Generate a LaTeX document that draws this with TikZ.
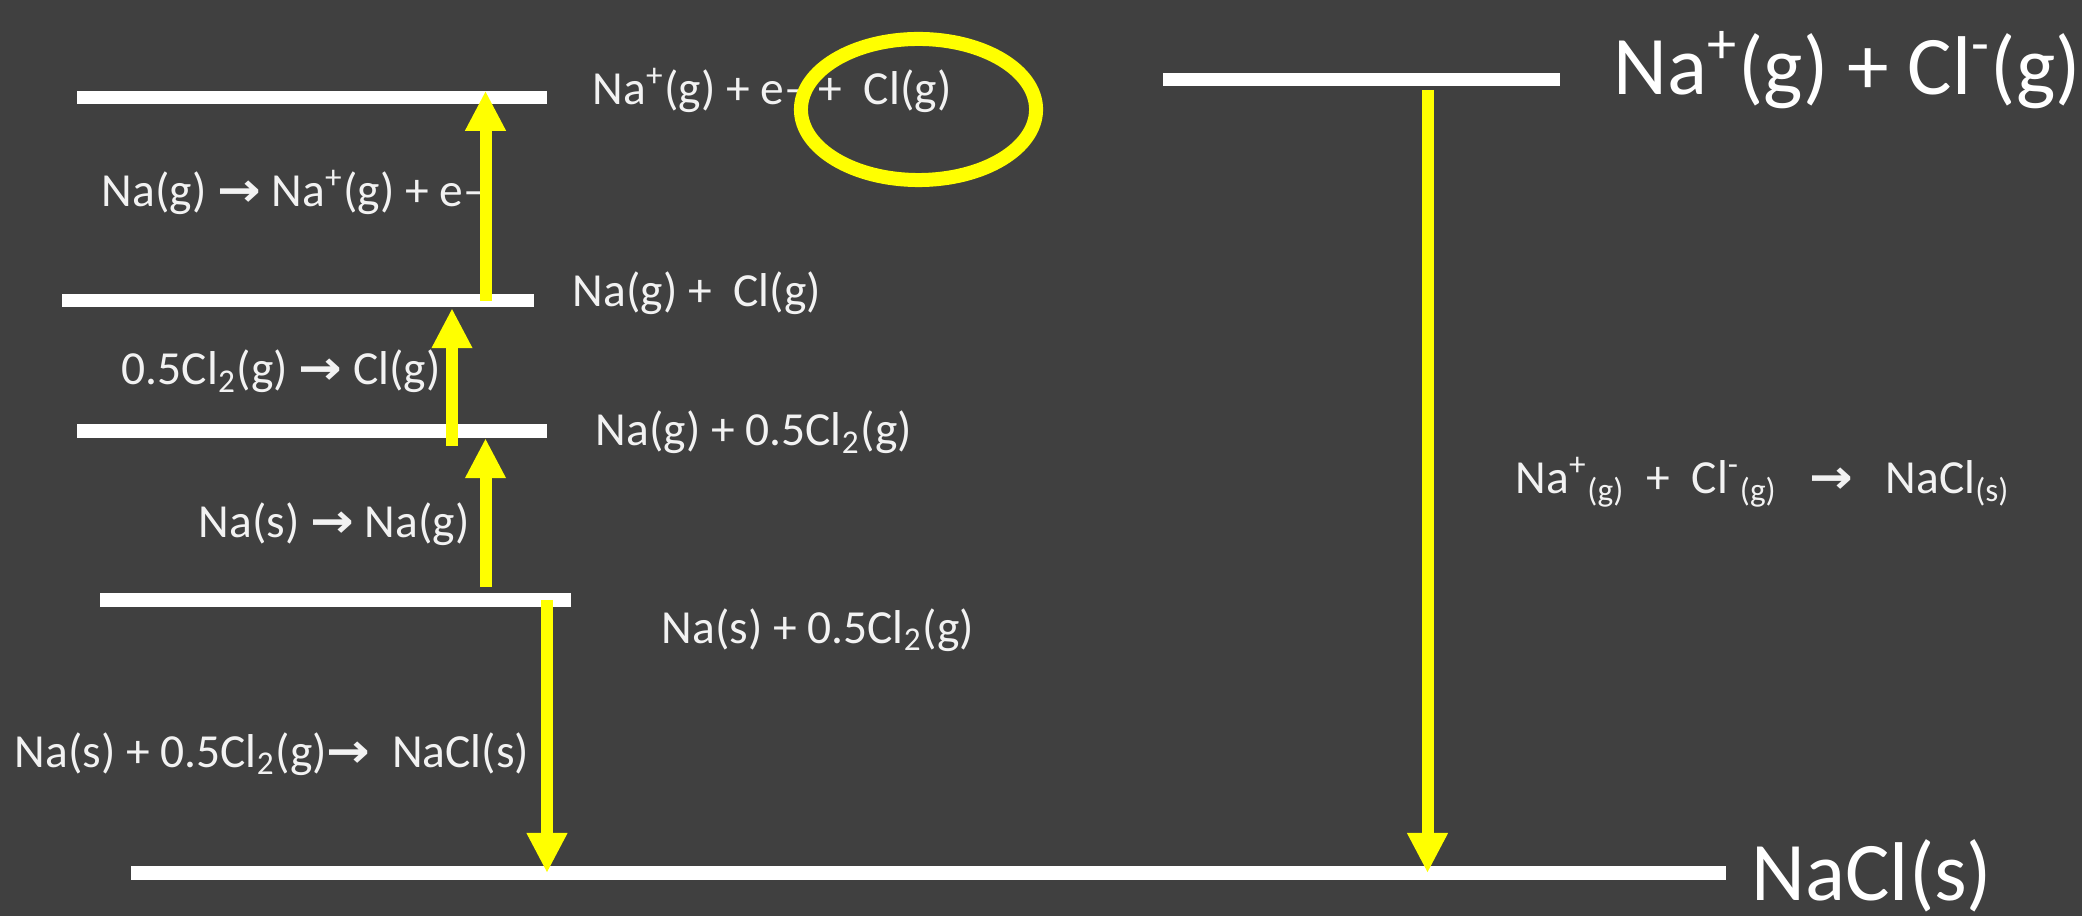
\documentclass[tikz,border=0pt]{standalone}
\usepackage{graphicx}
\usepackage{fontspec}
\setmainfont{Carlito}
\newfontfamily\arrowfont{DejaVu Sans}
\usetikzlibrary{arrows.meta,shapes.geometric}
\definecolor{Slate}{HTML}{404040}
\definecolor{Ink}{HTML}{F2F2F2}
\definecolor{Beam}{HTML}{FFFF00}
\newcommand{\rxn}{{\arrowfont\bfseries\scalebox{1.1}[1]{→}}}

\begin{document}
\begin{tikzpicture}[x=0.01cm,y=-0.01cm,level/.style={fill=white, inner sep=0pt, minimum height=0.13cm},lab/.style={text=Ink, anchor=base west, inner sep=0pt, font=\fontsize{13.5}{16}\selectfont},big/.style={text=white, anchor=base west, inner sep=0pt, font=\fontsize{23.7}{28}\selectfont},yarr/.style={color=Beam, line width=0.12cm, -{Triangle[width=0.38cm,length=0.40cm]}}]
\fill[Slate] (0,0) rectangle (2082,916);
\useasboundingbox (0,0) rectangle (2082,916);
\node[level, minimum width=4.70cm] (atomA) at (312,98) {};
\node[level, minimum width=4.72cm] (atomB) at (298,301) {};
\node[level, minimum width=4.70cm] (atomC) at (312,431) {};
\node[level, minimum width=4.71cm] (atomD) at (335.5,600) {};
\node[level, minimum width=15.95cm] (salt) at (928.5,873) {};
\node[level, minimum width=3.97cm] (ionpair) at (1361.5,80) {};
\node[lab] (tIon) at (592,105) {Na\textsuperscript{+}(g) + e– +\ \ Cl(g)};
\node[lab] (tIonStep) at (101,207) {Na(g) \rxn{} Na\textsuperscript{+}(g) + e–};
\node[lab] (tGas) at (572,307) {Na(g) +\ \ Cl(g)};
\node[lab] (tAtomStep) at (121,385) {0.5Cl\textsubscript{2}(g) \rxn{} Cl(g)};
\node[lab] (tHalf) at (595,446) {Na(g) + 0.5Cl\textsubscript{2}(g)};
\node[lab] (tSubStep) at (198,538) {Na(s) \rxn{} Na(g)};
\node[lab] (tElem) at (661,643) {Na(s) + 0.5Cl\textsubscript{2}(g)};
\node[lab] (tForm) at (14,767) {Na(s) + 0.5Cl\textsubscript{2}(g)\rxn\ \ NaCl(s)};
\node[lab] (tLatt) at (1515,494) {Na\textsuperscript{+}\textsubscript{(g)}\ \ +\ \ Cl\textsuperscript{-}\textsubscript{(g)}\ \ \ \rxn\ \ \ NaCl\textsubscript{(s)}};
\node[big] (tIonPair) at (1613,95) {Na\textsuperscript{+}(g) + Cl\textsuperscript{-}(g)};
\node[big] (tSalt) at (1751,900) {NaCl(s)};
\node[ellipse, draw=Beam, line width=0.14cm, minimum width=2.35cm, minimum height=1.41cm, inner sep=0pt] (clmark) at (918.5,109.5) {};
\coordinate (ionbase) at (485.5,301);
\coordinate (clbase) at (452,446);
\coordinate (subbase) at (485.5,587);
\coordinate (formtop) at (547,600);
\coordinate (lattop) at (1427.5,90);
\draw[yarr] (ionbase) -- (ionbase |- atomA.north);
\draw[yarr] (clbase) -- (clbase |- atomB.south);
\draw[yarr] (subbase) -- (subbase |- atomC.south);
\draw[yarr] (formtop) -- (formtop |- salt.center);
\draw[yarr] (lattop) -- (lattop |- salt.center);
\end{tikzpicture}
\end{document}
